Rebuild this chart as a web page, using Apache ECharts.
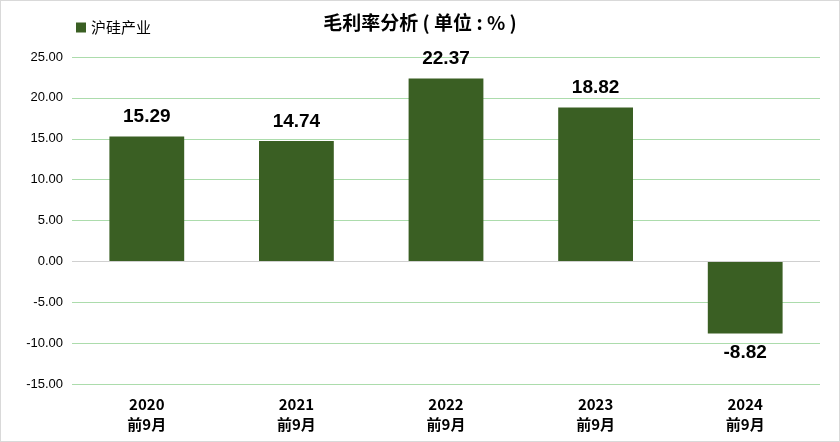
<!DOCTYPE html>
<html><head><meta charset="utf-8">
<script src="https://cdn.jsdelivr.net/npm/echarts@6/dist/echarts.min.js"></script>
<style>html,body{margin:0;padding:0;background:#fff}#c{width:838px;height:440px;border:1px solid #d9d9d9}</style>
</head><body><div id="c"></div>
<script>
const categories = ['2020\n前9月','2021\n前9月','2022\n前9月','2023\n前9月','2024\n前9月'];
const values = [15.29, 14.74, 22.37, 18.82, -8.82];
const seriesName = '沪硅产业';
const chart = echarts.init(document.getElementById('c'));
chart.setOption({
  animation:false,
  title:{
    text:'{b|毛利率分析}{n| ( 单位 : % )}',
    left:'center', top:7,
    textStyle:{rich:{
      b:{fontSize:19,fontWeight:'bold',color:'#000',fontFamily:'Noto Sans CJK SC'},
      n:{fontSize:19,color:'#000',fontFamily:'Noto Sans CJK SC'}
    }}
  },
  legend:{
    left:70, top:14, itemWidth:10, itemHeight:10, itemGap:5, icon:'rect',
    textStyle:{fontSize:15,color:'#000',fontFamily:'Noto Sans CJK SC'},
    data:[seriesName]
  },
  grid:{left:71,right:19,top:56,bottom:57,containLabel:false},
  xAxis:{
    type:'category', data:categories,
    axisLine:{show:false}, axisTick:{show:false},
    axisLabel:{fontSize:15,fontWeight:'bold',color:'#000',lineHeight:20,margin:10,fontFamily:'Noto Sans CJK SC',interval:0}
  },
  yAxis:{
    type:'value', min:-15, max:25, interval:5,
    axisLine:{show:false}, axisTick:{show:false},
    axisLabel:{fontSize:13,color:'#000',margin:9,formatter:v=>v.toFixed(2),fontFamily:'Liberation Sans'},
    splitLine:{lineStyle:{color:'#acdcac',width:1}}
  },
  series:[{
    name:seriesName, type:'bar', data:values, barWidth:'50%',
    itemStyle:{color:'#3a5f23'},
    label:{show:true,position:'outside',fontSize:19,fontWeight:'bold',color:'#000',distance:10,
      formatter:p=>p.value.toFixed(2),fontFamily:'Liberation Sans'},
    markLine:{silent:true,symbol:'none',label:{show:false},lineStyle:{color:'#d0d0d0',type:'solid',width:1},data:[{yAxis:0}]}
  }]
});
</script></body></html>
